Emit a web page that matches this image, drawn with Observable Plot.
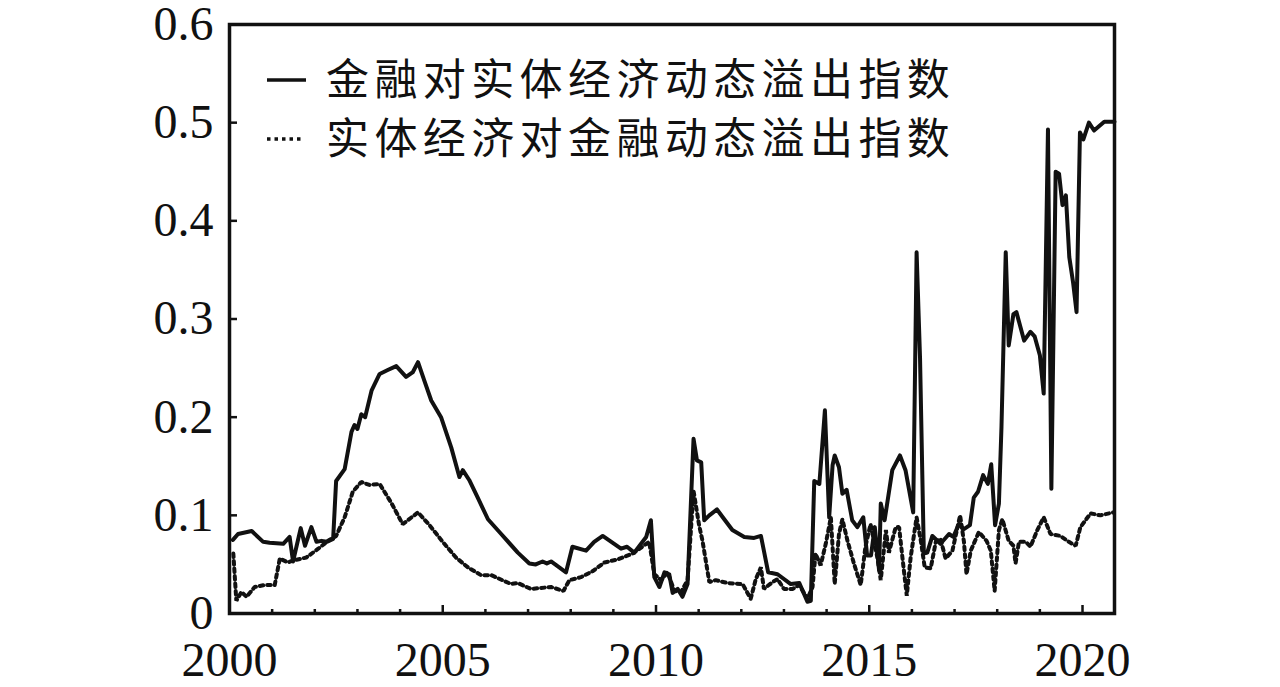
<!DOCTYPE html>
<html>
<head>
<meta charset="utf-8">
<script src="https://cdn.jsdelivr.net/npm/d3@7"></script>
<script src="https://cdn.jsdelivr.net/npm/@observablehq/plot@0.6"></script>
<style>
  html, body { margin: 0; padding: 0; background: #fff; }
  #chart { width: 1280px; height: 687px; }
</style>
</head>
<body>
<div id="chart"></div>
<script>
// 金融对实体经济动态溢出指数 (solid)
const finToRealYears = [2000.08,2000.20,2000.52,2000.79,2000.94,2001.26,2001.41,2001.49,2001.67,2001.77,2001.92,2002.04,2002.16,2002.28,2002.43,2002.50,2002.70,2002.86,2002.93,2003.00,2003.09,2003.18,2003.33,2003.52,2003.71,2003.91,2004.14,2004.30,2004.42,2004.57,2004.73,2004.96,2005.20,2005.39,2005.47,2005.62,2005.82,2006.06,2006.37,2006.76,2007.03,2007.18,2007.34,2007.44,2007.54,2007.89,2008.04,2008.36,2008.55,2008.75,2009.18,2009.32,2009.49,2009.77,2009.88,2009.96,2010.08,2010.20,2010.31,2010.39,2010.51,2010.62,2010.74,2010.88,2010.96,2011.06,2011.13,2011.25,2011.43,2011.60,2011.79,2012.07,2012.30,2012.46,2012.63,2012.85,2013.16,2013.36,2013.55,2013.63,2013.71,2013.83,2013.96,2014.06,2014.14,2014.19,2014.29,2014.37,2014.47,2014.60,2014.72,2014.86,2014.95,2015.04,2015.13,2015.23,2015.27,2015.36,2015.54,2015.72,2015.85,2016.03,2016.11,2016.19,2016.28,2016.36,2016.48,2016.67,2016.87,2016.97,2017.10,2017.22,2017.36,2017.45,2017.55,2017.67,2017.78,2017.86,2017.95,2018.04,2018.10,2018.20,2018.27,2018.38,2018.45,2018.63,2018.78,2018.88,2019.00,2019.09,2019.19,2019.27,2019.37,2019.45,2019.53,2019.61,2019.69,2019.78,2019.86,2019.94,2020.02,2020.15,2020.27,2020.51,2020.75];
const finToRealValues = [0.075,0.081,0.084,0.073,0.072,0.071,0.078,0.053,0.087,0.069,0.088,0.073,0.074,0.073,0.076,0.135,0.147,0.185,0.192,0.188,0.203,0.200,0.227,0.244,0.248,0.252,0.241,0.246,0.256,0.237,0.217,0.200,0.169,0.139,0.146,0.136,0.118,0.096,0.081,0.062,0.051,0.050,0.053,0.051,0.053,0.042,0.068,0.064,0.073,0.079,0.066,0.068,0.062,0.078,0.095,0.037,0.027,0.042,0.040,0.021,0.025,0.017,0.030,0.178,0.156,0.154,0.095,0.100,0.106,0.096,0.085,0.078,0.077,0.079,0.042,0.040,0.030,0.031,0.012,0.013,0.135,0.132,0.207,0.098,0.151,0.161,0.149,0.122,0.126,0.095,0.088,0.098,0.059,0.059,0.088,0.044,0.112,0.095,0.146,0.161,0.146,0.103,0.368,0.261,0.061,0.062,0.079,0.071,0.081,0.078,0.091,0.086,0.090,0.118,0.124,0.141,0.132,0.152,0.090,0.112,0.190,0.368,0.273,0.305,0.307,0.278,0.287,0.282,0.263,0.224,0.493,0.127,0.450,0.448,0.416,0.426,0.363,0.337,0.307,0.490,0.483,0.500,0.492,0.501,0.501];

// 实体经济对金融动态溢出指数 (dotted)
const realToFinYears = [2000.09,2000.16,2000.28,2000.40,2000.59,2000.82,2001.06,2001.18,2001.37,2001.49,2001.80,2002.08,2002.31,2002.50,2002.70,2002.89,2003.09,2003.28,2003.52,2003.79,2004.06,2004.42,2004.69,2005.00,2005.31,2005.59,2005.90,2006.14,2006.60,2006.76,2007.07,2007.54,2007.83,2007.97,2008.24,2008.51,2008.79,2009.10,2009.45,2009.84,2009.96,2010.12,2010.27,2010.43,2010.59,2010.74,2010.88,2011.01,2011.09,2011.25,2011.40,2011.68,2012.03,2012.22,2012.34,2012.46,2012.53,2012.73,2012.85,2013.00,2013.20,2013.36,2013.55,2013.67,2013.74,2013.86,2013.98,2014.10,2014.19,2014.29,2014.37,2014.49,2014.64,2014.80,2014.91,2015.03,2015.11,2015.19,2015.27,2015.39,2015.46,2015.62,2015.70,2015.78,2015.88,2015.97,2016.11,2016.21,2016.30,2016.44,2016.56,2016.67,2016.79,2016.95,2017.13,2017.22,2017.28,2017.38,2017.57,2017.75,2017.85,2017.94,2018.04,2018.12,2018.27,2018.38,2018.43,2018.51,2018.67,2018.78,2018.94,2019.09,2019.25,2019.48,2019.68,2019.84,2019.95,2020.07,2020.19,2020.42,2020.73];
const realToFinValues = [0.061,0.013,0.022,0.017,0.027,0.029,0.029,0.056,0.052,0.054,0.057,0.066,0.074,0.079,0.098,0.124,0.134,0.131,0.132,0.113,0.091,0.103,0.090,0.073,0.057,0.047,0.039,0.039,0.030,0.031,0.025,0.027,0.023,0.034,0.037,0.043,0.052,0.055,0.061,0.073,0.040,0.034,0.042,0.023,0.022,0.034,0.125,0.090,0.074,0.032,0.034,0.031,0.030,0.015,0.035,0.047,0.025,0.032,0.035,0.025,0.025,0.029,0.015,0.027,0.061,0.049,0.071,0.098,0.030,0.081,0.096,0.074,0.051,0.029,0.068,0.091,0.074,0.057,0.034,0.085,0.062,0.088,0.088,0.056,0.018,0.057,0.098,0.074,0.047,0.046,0.073,0.076,0.056,0.064,0.100,0.073,0.040,0.064,0.083,0.074,0.064,0.023,0.085,0.096,0.074,0.069,0.051,0.073,0.073,0.068,0.085,0.098,0.081,0.079,0.073,0.069,0.088,0.095,0.102,0.100,0.103];

const seriesNames = ["金融对实体经济动态溢出指数", "实体经济对金融动态溢出指数"];
const xMajorTicks = [2000, 2005, 2010, 2015, 2020];
const xMinorTicks = [2001,2002,2003,2004,2006,2007,2008,2009,2011,2012,2013,2014,2016,2017,2018,2019];
const yTicks = [0, 0.1, 0.2, 0.3, 0.4, 0.5, 0.6];
const yTickLabels = ["0", "0.1", "0.2", "0.3", "0.4", "0.5", "0.6"];

const finRows = finToRealYears.map((y, i) => ({year: y, value: finToRealValues[i]}));
const realRows = realToFinYears.map((y, i) => ({year: y, value: realToFinValues[i]}));

const INK = "#111";
const DASH = "3.5,4";

function legendMark() {
  return (index, scales, values, dimensions) => {
    const g = d3.create("svg:g");
    const x0 = dimensions.marginLeft + 38;
    const rows = [
      {y: 80, dash: null, len: 39, name: seriesNames[0]},
      {y: 139, dash: DASH, len: 37, name: seriesNames[1]}
    ];
    for (const r of rows) {
      g.append("line")
        .attr("x1", x0).attr("x2", x0 + r.len)
        .attr("y1", r.y).attr("y2", r.y)
        .attr("stroke", INK).attr("stroke-width", 3.5)
        .attr("stroke-dasharray", r.dash);
      g.append("text")
        .attr("x", x0 + 59).attr("y", r.y)
        .attr("dy", "0.36em")
        .attr("text-anchor", "start")
        .attr("fill", INK)
        .attr("font-family", "'Noto Sans CJK SC', sans-serif")
        .attr("font-size", 43)
        .attr("letter-spacing", "5.4px")
        .text(r.name);
    }
    return g.node();
  };
}

const chart = Plot.plot({
  width: 1280,
  height: 687,
  marginLeft: 229,
  marginRight: 166,
  marginTop: 24,
  marginBottom: 74,
  style: {fontFamily: "'Liberation Serif', 'Times New Roman', serif", fontSize: "48px", color: INK, background: "#fff"},
  x: {domain: [2000, 2020.75], label: null},
  y: {domain: [0, 0.6], label: null},
  marks: [
    Plot.line(realRows, {x: "year", y: "value", stroke: INK, strokeWidth: 4, strokeDasharray: DASH, strokeLinejoin: "miter"}),
    Plot.line(finRows, {x: "year", y: "value", stroke: INK, strokeWidth: 4, strokeLinejoin: "round"}),
    Plot.frame({stroke: INK, strokeWidth: 3.5}),
    Plot.axisX(xMinorTicks, {tickSize: -4, tickFormat: () => "", strokeWidth: 2.5, label: null}),
    Plot.axisX(xMajorTicks, {tickSize: -8, tickPadding: 36, tickFormat: d => String(d), strokeWidth: 2.5, fontSize: 48, label: null}),
    Plot.axisY(yTicks, {tickSize: -8, tickPadding: 24, tickFormat: d => yTickLabels[yTicks.indexOf(d)], strokeWidth: 2.5, fontSize: 48, label: null}),
    legendMark()
  ]
});
document.getElementById("chart").appendChild(chart);
</script>
</body>
</html>
